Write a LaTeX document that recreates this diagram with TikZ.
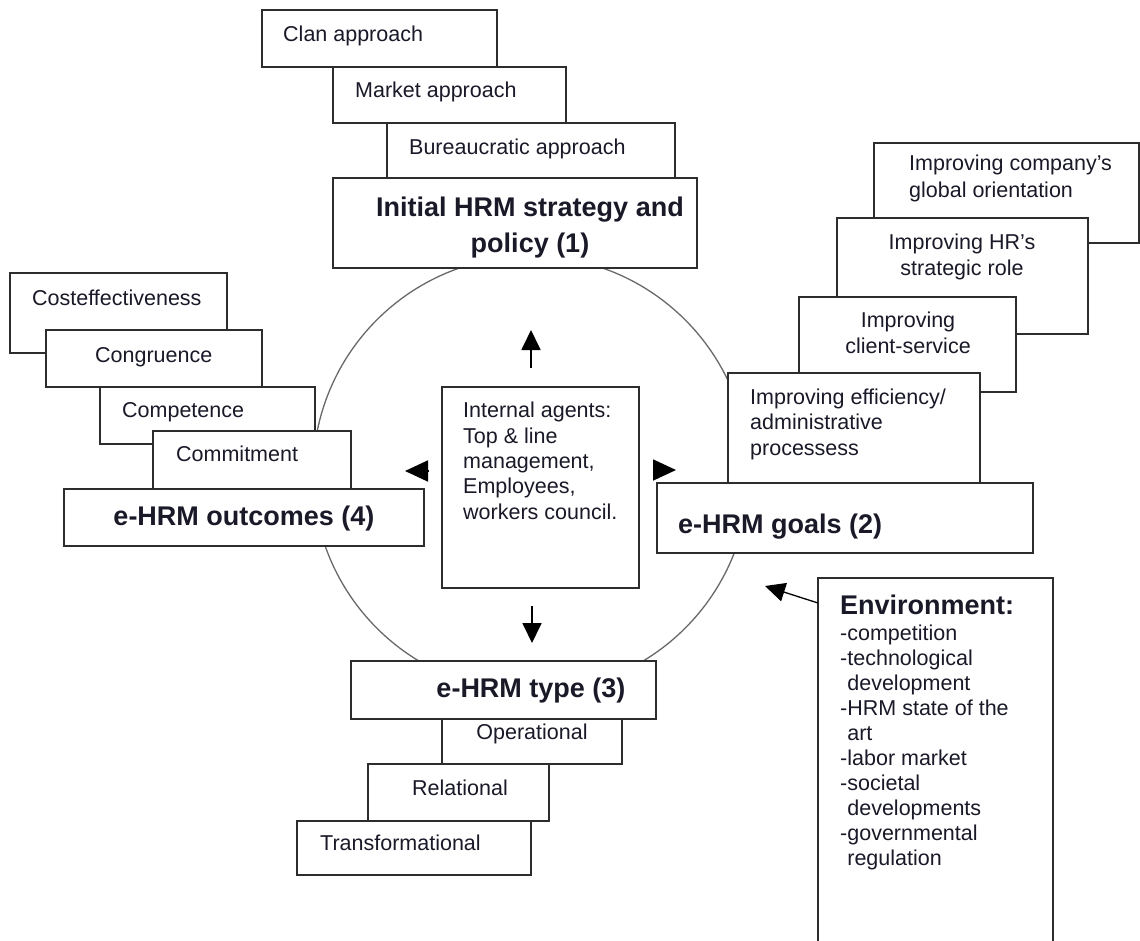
\documentclass[tikz,border=0pt]{standalone}
\usepackage{fontspec}
\setmainfont{Liberation Sans}
\usetikzlibrary{arrows.meta,calc}
\definecolor{edge}{RGB}{45,45,45}
\definecolor{ink}{RGB}{25,25,40}
\definecolor{ring}{RGB}{105,105,105}
\newcommand{\hrbox}[5]{\node[box,minimum width={(#4-#2)*1pt},minimum height={(#5-#3)*1pt}] (#1) at (#2,#3) {};}
\begin{document}
\begin{tikzpicture}[x=1pt,y=-1pt,
  box/.style={draw=edge,line width=1.8pt,fill=white,rectangle,anchor=north west,inner sep=0pt,outer sep=0pt},
  txt/.style={text=ink,font=\fontsize{21.5}{25.3}\selectfont,inner sep=0pt,align=left,anchor=base west},
  ctxt/.style={txt,align=center,anchor=base},
  btxt/.style={txt,font=\bfseries\fontsize{27}{36}\selectfont},
  bctxt/.style={btxt,align=center,anchor=base},
  arr/.style={-{Triangle[length=20pt,width=19pt]},line width=1.8pt,draw=black}]
\useasboundingbox (0,0) rectangle (1140,940);
\fill[white] (0,0) rectangle (1140,940);
% cycle
\node[draw=ring,line width=1.3pt,circle,minimum size=436pt,inner sep=0pt] (cycle) at (531,474) {};
% top stack
\hrbox{clan}{262}{10}{497}{67}
\hrbox{market}{333}{67}{566}{123}
\hrbox{bureau}{387}{123}{675}{178}
\hrbox{initial}{333}{178}{697}{268}
\node[txt] (clant) at (283,41) {Clan approach};
\node[txt] (markett) at (355,97) {Market approach};
\node[txt] (bureaut) at (409,154) {Bureaucratic approach};
\node[bctxt] (initialt) at (530,252) {Initial HRM strategy and\\policy (1)};
% right stack
\hrbox{company}{874}{143}{1139}{243}
\hrbox{hrrole}{837}{218}{1088}{334}
\hrbox{client}{799}{297}{1016}{392}
\hrbox{effic}{728}{373}{980}{483}
\hrbox{goals}{657}{483}{1033}{553}
\node[txt,font=\fontsize{21.5}{27}\selectfont] (companyt) at (909,197) {Improving company's\\global orientation};
\node[ctxt] (hrrolet) at (962,275) {Improving HR's\\strategic role};
\node[ctxt] (clientt) at (908,353) {Improving\\client-service};
\node[txt] (effict) at (750,455) {Improving efficiency/\\administrative\\processess};
\node[btxt] (goalst) at (678,533) {e-HRM goals (2)};
% left stack
\hrbox{cost}{10}{273}{227}{353}
\hrbox{congr}{46}{330}{262}{387}
\hrbox{compet}{100}{387}{315}{444}
\hrbox{commit}{153}{431}{351}{489}
\hrbox{outcomes}{64}{489}{424}{546}
\node[txt] (costt) at (32,305) {Costeffectiveness};
\node[txt] (congrt) at (95,362) {Congruence};
\node[txt] (compett) at (122,417) {Competence};
\node[txt] (committ) at (176,461) {Commitment};
\node[bctxt] (outcomest) at (244,525) {e-HRM outcomes (4)};
% centre
\hrbox{agents}{442}{387}{639}{588}
\node[txt] (agentst) at (463,519) {Internal agents:\\Top \& line\\management,\\Employees,\\workers council.};
% bottom stack
\hrbox{type}{351}{661}{656}{719}
\hrbox{oper}{442}{719}{622}{764}
\hrbox{relat}{368}{764}{549}{821}
\hrbox{transf}{297}{821}{531}{875}
\node[bctxt] (typet) at (531,697) {e-HRM type (3)};
\node[ctxt] (opert) at (532,739) {Operational};
\node[ctxt] (relatt) at (460,795) {Relational};
\node[txt] (transft) at (320,850) {Transformational};
% environment
\hrbox{env}{818}{578}{1053}{960}
\node[btxt] (envhead) at (840,614) {Environment:};
\node[txt,font=\fontsize{21.5}{25}\selectfont] (envt) at (840,865) {-competition\\-technological\\\hphantom{-}development\\-HRM state of the\\\hphantom{-}art\\-labor market\\-societal\\\hphantom{-}developments\\-governmental\\\hphantom{-}regulation};
% arrows
\coordinate (upS) at (531,368); \coordinate (upE) at (531,330);
\coordinate (dnS) at (532,606); \coordinate (dnE) at (532,643);
\coordinate (ltS) at (428,471); \coordinate (ltE) at (405,471);
\coordinate (rtS) at (653,470); \coordinate (rtE) at (676,470);
\coordinate (envE) at (765,586);
\draw[arr] (upS) -- (upE);
\draw[arr] (dnS) -- (dnE);
\draw[arr,-{Triangle[length=23pt,width=21pt]}] (ltS) -- (ltE);
\draw[arr,-{Triangle[length=23pt,width=21pt]}] (rtS) -- (rtE);
\draw[arr,line width=1.3pt] ($(env.north west)+(0,25)$) -- (envE);
\end{tikzpicture}
\end{document}
